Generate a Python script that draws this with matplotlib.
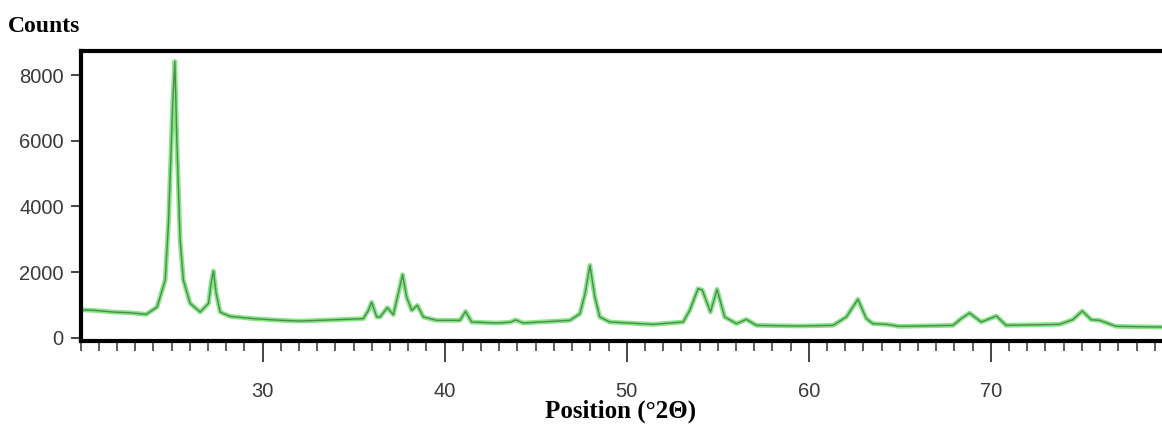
import matplotlib
matplotlib.use("Agg")
import matplotlib.pyplot as plt
from matplotlib.ticker import MultipleLocator

# XRD pattern (2theta in degrees, counts)
two_theta = [20.0, 20.8, 21.8, 22.7, 23.6, 24.2, 24.65, 24.83, 24.96, 25.07,
             25.18, 25.29, 25.38, 25.47, 25.65, 26.02, 26.57, 27.03, 27.17, 27.30,
             27.45, 27.67, 28.2, 29.5, 30.96, 32.06, 33.7, 35.53, 35.81, 35.99,
             36.27, 36.45, 36.85, 37.18, 37.45, 37.69, 37.91, 38.19, 38.5, 38.83,
             39.56, 40.84, 41.15, 41.48, 42.85, 43.6, 43.9, 44.31, 46.88, 47.43,
             47.71, 47.98, 48.25, 48.52, 49.07, 51.45, 53.1, 53.46, 53.92, 54.15,
             54.6, 54.96, 55.38, 56.03, 56.57, 57.12, 59.5, 61.33, 62.06, 62.7,
             63.16, 63.52, 64.26, 64.99, 67.92, 68.37, 68.83, 69.47, 70.3, 70.84,
             73.77, 74.5, 75.02, 75.51, 75.97, 76.88, 79.4]
counts = [850, 830, 780, 760, 710, 930, 1750, 3490, 5510, 7240,
          8420, 6020, 4490, 2970, 1750, 1045, 780, 1045, 1655, 2030,
          1350, 780, 650, 580, 530, 506, 540, 580, 830, 1080,
          630, 630, 915, 700, 1340, 1920, 1240, 833, 985, 630,
          528, 528, 800, 477, 447, 470, 540, 447, 528, 730,
          1340, 2205, 1240, 630, 477, 405, 477, 833, 1494, 1450,
          782, 1473, 630, 427, 558, 375, 355, 375, 630, 1170,
          580, 427, 406, 345, 375, 580, 751, 477, 660, 375,
          406, 548, 812, 548, 528, 345, 323]

x_major = [30, 40, 50, 60, 70]
y_major = [0, 2000, 4000, 6000, 8000]

fig = plt.figure(figsize=(11.62, 4.25), dpi=100)
ax = fig.add_axes([0.0693, 0.197, 0.9307, 0.684])

ax.plot(two_theta, counts, color="#86e686", lw=3.4, solid_joinstyle="round")
ax.plot(two_theta, counts, color="#4d8a50", lw=1.0)

ax.set_xlim(20, 79.4)
ax.set_ylim(-110, 8750)

for side in ["left", "top", "bottom"]:
    ax.spines[side].set_linewidth(3)
    ax.spines[side].set_color("black")
ax.spines["right"].set_visible(False)

tick_font = {"family": ["Liberation Sans", "DejaVu Sans"], "size": 14.5}
ax.set_xticks(x_major)
ax.set_xticklabels([str(v) for v in x_major], fontdict=tick_font, color="#3a3a3a")
ax.set_yticks(y_major)
ax.set_yticklabels([str(v) for v in y_major], fontdict=tick_font, color="#3a3a3a")
ax.xaxis.set_minor_locator(MultipleLocator(1))
ax.tick_params(axis="x", which="major", direction="out", length=15, width=1.4,
               color="#444444", pad=14)
ax.tick_params(axis="x", which="minor", direction="out", length=7, width=1.2,
               color="#444444")
ax.tick_params(axis="y", which="major", direction="out", length=7, width=1.4,
               color="#444444", pad=5)
ax.tick_params(top=False, right=False)

fig.text(8 / 1162, 1 - 27 / 425, "Counts", ha="left", va="center",
         family="Liberation Serif", weight="bold", fontsize=17)
fig.text(621 / 1162, 1 - 411 / 425, "Position (\u00b02\u0398)", ha="center", va="center",
         family="Liberation Serif", weight="bold", fontsize=18)

fig.savefig("out.png", dpi=100, facecolor="white")
